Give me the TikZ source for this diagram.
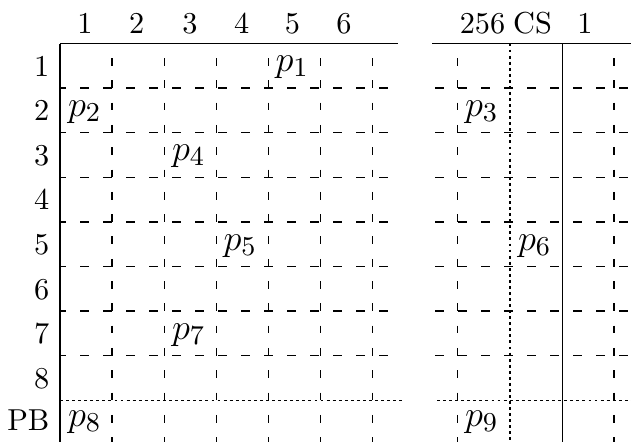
\documentclass[tikz,border=0pt]{standalone}
\begin{document}
\begin{tikzpicture}[x=0.33pt,y=-0.33pt,
  rule/.style={line width=0.45pt},
  dashv/.style={line width=0.45pt, dash pattern=on 2.57pt off 4.79pt, dash phase=2.57pt},
  dashh/.style={line width=0.45pt, dash pattern=on 2.97pt off 4.62pt, dash phase=0.99pt},
  dashhr/.style={line width=0.45pt, dash pattern=on 2.97pt off 4.62pt, dash phase=6.6pt},
  dotl/.style={line width=0.45pt, dash pattern=on 0.95pt off 1.05pt},
  hd/.style={inner sep=0pt, anchor=base},
  rowlab/.style={inner sep=0pt, anchor=base east},
  pn/.style={inner sep=0pt, anchor=base west, font=\fontsize{13}{15}\selectfont}]
\useasboundingbox (0,0) rectangle (631,442);
% top rules
\draw[rule] (60,43.5) -- (398,43.5);
\draw[rule] (432,43.5) -- (631,43.5);
% solid verticals
\draw[rule] (60,43.5) -- (60,442);
\draw[rule] (562.3,43.5) -- (562.3,442);
% dotted vertical
\draw[dotl] (510,43.5) -- (510,442);
% dashed verticals
\foreach \x in {112.1,164.2,216.4,268.5,320.6,372.7,457.3,614}
  \draw[dashv] (\x,43.5) -- (\x,442);
% dashed horizontals
\foreach \y in {88.1,132.7,177.3,221.9,266.5,311.1,355.7}{
  \draw[dashh] (60,\y) -- (398,\y);
  \draw[dashhr] (432,\y) -- (631,\y);
}
% dotted horizontal
\draw[dotl] (60,400.3) -- (403,400.3);
\draw[dotl] (437,400.3) -- (631,400.3);
% column headers
\node[hd] (c1) at (85,33) {1};
\node[hd] (c2) at (136.7,33) {2};
\node[hd] (c3) at (190,33) {3};
\node[hd] (c4) at (241.7,33) {4};
\node[hd] (c5) at (292.5,33) {5};
\node[hd] (c6) at (344,33) {6};
\node[hd] (c256) at (482.5,33) {256};
\node[hd] (cCS) at (532.5,33) {CS};
\node[hd] (cR1) at (585,33) {1};
% row labels
\node[rowlab] (r1) at (50,76.1) {1};
\node[rowlab] (r2) at (50,120.7) {2};
\node[rowlab] (r3) at (50,165.3) {3};
\node[rowlab] (r4) at (50,209.9) {4};
\node[rowlab] (r5) at (50,254.5) {5};
\node[rowlab] (r6) at (50,299.1) {6};
\node[rowlab] (r7) at (50,343.7) {7};
\node[rowlab] (r8) at (50,388.3) {8};
\node[rowlab] (rPB) at (50,430) {PB};
% entries
\node[pn] (p1) at (275,71) {$p_1$};
\node[pn] (p2) at (67.5,116) {$p_2$};
\node[pn] (p3) at (464.5,116) {$p_3$};
\node[pn] (p4) at (171.5,160.5) {$p_4$};
\node[pn] (p5) at (223,250) {$p_5$};
\node[pn] (p6) at (517.5,250) {$p_6$};
\node[pn] (p7) at (171.5,339) {$p_7$};
\node[pn] (p8) at (67.5,426) {$p_8$};
\node[pn] (p9) at (464.5,426) {$p_9$};
\end{tikzpicture}
\end{document}
